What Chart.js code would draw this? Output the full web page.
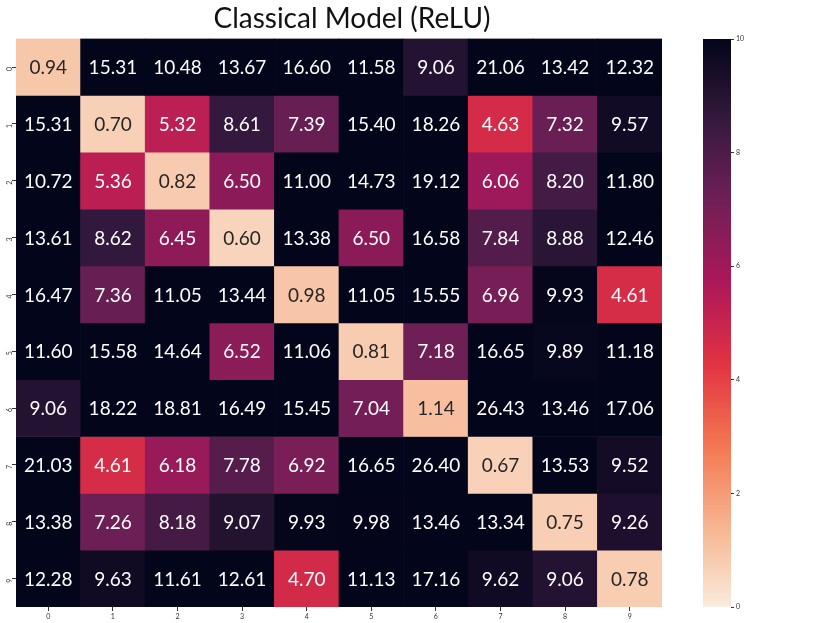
<!DOCTYPE html>
<html>
<head>
<meta charset="utf-8">
<script src="https://cdn.jsdelivr.net/npm/chart.js@4/dist/chart.umd.min.js"></script>
<style>
  html, body { margin: 0; padding: 0; background: #fff; }
  #wrap { position: relative; width: 830px; height: 623px; }
  #main { position: absolute; left: 0; top: 0; }
  #bar { position: absolute; left: 703px; top: 0; }
</style>
</head>
<body>
<div id="wrap">
  <canvas id="main" width="704" height="623"></canvas>
  <canvas id="bar" width="127" height="623"></canvas>
</div>
<script>
// tick labels (same for both axes)
const labels = ['0', '1', '2', '3', '4', '5', '6', '7', '8', '9'];

// matrix values, one array per row
const row0 = [0.94, 15.31, 10.48, 13.67, 16.60, 11.58, 9.06, 21.06, 13.42, 12.32];
const row1 = [15.31, 0.70, 5.32, 8.61, 7.39, 15.40, 18.26, 4.63, 7.32, 9.57];
const row2 = [10.72, 5.36, 0.82, 6.50, 11.00, 14.73, 19.12, 6.06, 8.20, 11.80];
const row3 = [13.61, 8.62, 6.45, 0.60, 13.38, 6.50, 16.58, 7.84, 8.88, 12.46];
const row4 = [16.47, 7.36, 11.05, 13.44, 0.98, 11.05, 15.55, 6.96, 9.93, 4.61];
const row5 = [11.60, 15.58, 14.64, 6.52, 11.06, 0.81, 7.18, 16.65, 9.89, 11.18];
const row6 = [9.06, 18.22, 18.81, 16.49, 15.45, 7.04, 1.14, 26.43, 13.46, 17.06];
const row7 = [21.03, 4.61, 6.18, 7.78, 6.92, 16.65, 26.40, 0.67, 13.53, 9.52];
const row8 = [13.38, 7.26, 8.18, 9.07, 9.93, 9.98, 13.46, 13.34, 0.75, 9.26];
const row9 = [12.28, 9.63, 11.61, 12.61, 4.70, 11.13, 17.16, 9.62, 9.06, 0.78];
const rows = [row0, row1, row2, row3, row4, row5, row6, row7, row8, row9];

// colour range of the colorbar
const vmin = 0;
const vmax = 10;

// "rocket" colormap key colours (dark -> light), used reversed
const rocketPos = [0, 1 / 7, 2 / 7, 3 / 7, 4 / 7, 5 / 7, 6 / 7, 1];
const rocketHex = ['#03051a', '#35193e', '#701f57', '#ad1759', '#e13342', '#f37651', '#f6b48f', '#faebdd'];

function hexToRgb(h) {
  return [parseInt(h.slice(1, 3), 16), parseInt(h.slice(3, 5), 16), parseInt(h.slice(5, 7), 16)];
}

// value -> rgb array (rocket_r)
function cmap(v) {
  let t = (v - vmin) / (vmax - vmin);
  t = Math.max(0, Math.min(1, t));
  const p = 1 - t;
  for (let i = 0; i < rocketPos.length - 1; i++) {
    if (p <= rocketPos[i + 1]) {
      const f = (p - rocketPos[i]) / (rocketPos[i + 1] - rocketPos[i]);
      const a = hexToRgb(rocketHex[i]), b = hexToRgb(rocketHex[i + 1]);
      return a.map((c, k) => Math.round(c + (b[k] - c) * f));
    }
  }
  return hexToRgb(rocketHex[rocketHex.length - 1]);
}

function rgbStr(c) {
  return 'rgb(' + c[0] + ',' + c[1] + ',' + c[2] + ')';
}

// same rule seaborn uses to pick annotation colour
function textColor(c) {
  const lin = c.map(x => {
    x = x / 255;
    return x <= 0.03928 ? x / 12.92 : Math.pow((x + 0.055) / 1.055, 2.4);
  });
  const lum = 0.2126 * lin[0] + 0.7152 * lin[1] + 0.0722 * lin[2];
  return lum > 0.408 ? '#262626' : '#ffffff';
}

// one floating-bar dataset per row, spanning [r, r+1] on the reversed y axis
const datasets = rows.map((row, r) => ({
  label: 'row ' + labels[r],
  data: row.map(() => [r, r + 1]),
  values: row,
  backgroundColor: row.map(v => rgbStr(cmap(v))),
  borderWidth: 0,
  barPercentage: 1,
  categoryPercentage: 1,
  grouped: false
}));

// writes the value into the middle of every cell
const annotate = {
  id: 'annotate',
  afterDatasetsDraw(chart) {
    const ctx = chart.ctx;
    ctx.save();
    ctx.font = '19px Lato';
    ctx.textAlign = 'center';
    ctx.textBaseline = 'middle';
    chart.data.datasets.forEach((ds, i) => {
      chart.getDatasetMeta(i).data.forEach((el, j) => {
        const v = ds.values[j];
        const p = el.getCenterPoint();
        ctx.fillStyle = textColor(cmap(v));
        ctx.fillText(v.toFixed(2), p.x, p.y + 1);
      });
    });
    ctx.restore();
  }
};

const tickFont = { family: 'Lato', size: 7 };

new Chart(document.getElementById('main'), {
  type: 'bar',
  data: { labels: labels, datasets: datasets },
  options: {
    responsive: false,
    animation: false,
    layout: { padding: { left: 0, right: 0, top: 0, bottom: 0 } },
    plugins: {
      legend: { display: false },
      tooltip: { enabled: false },
      title: {
        display: true,
        text: 'Classical Model (ReLU)',
        color: '#111',
        font: { family: 'Lato', size: 28, weight: 'normal', lineHeight: 1.2 },
        padding: { top: 2, bottom: 3 }
      }
    },
    scales: {
      x: {
        type: 'category',
        offset: true,
        grid: { display: true, offset: false, drawOnChartArea: false, drawTicks: true, tickLength: 4, color: '#333' },
        border: { display: false },
        ticks: { font: tickFont, color: '#333', padding: 2, maxRotation: 0 },
        afterFit(s) { s.height = 16; }
      },
      y: {
        type: 'linear',
        min: 0,
        max: 10,
        reverse: true,
        grid: { display: true, drawOnChartArea: false, drawTicks: true, tickLength: 4, color: '#333' },
        border: { display: false },
        ticks: {
          font: tickFont,
          color: '#333',
          padding: 2,
          minRotation: 90,
          maxRotation: 90,
          callback: (v, i) => labels[i]
        },
        afterBuildTicks(s) { s.ticks = labels.map((l, i) => ({ value: i + 0.5 })); },
        afterFit(s) { s.width = 16; }
      },
      // empty spacer on the right, the colorbar sits there
      spacer: {
        type: 'linear',
        position: 'right',
        display: true,
        grid: { display: false },
        border: { display: false },
        ticks: { display: false },
        afterFit(s) { s.width = 42; }
      }
    }
  },
  plugins: [annotate]
});

// colorbar: one floating bar from vmin to vmax filled with the colormap
const barTicks = [0, 2, 4, 6, 8, 10];

new Chart(document.getElementById('bar'), {
  type: 'bar',
  data: {
    labels: [''],
    datasets: [{
      data: [[vmin, vmax]],
      barPercentage: 1,
      categoryPercentage: 1,
      borderWidth: 0,
      backgroundColor(c) {
        const chart = c.chart;
        if (!chart.chartArea) return '#000';
        const y = chart.scales.y;
        const g = chart.ctx.createLinearGradient(0, y.getPixelForValue(vmin), 0, y.getPixelForValue(vmax));
        for (let k = 0; k <= 50; k++) {
          const v = vmin + (vmax - vmin) * k / 50;
          g.addColorStop(k / 50, rgbStr(cmap(v)));
        }
        return g;
      }
    }]
  },
  options: {
    responsive: false,
    animation: false,
    layout: { padding: { left: 0, right: 0, top: 39, bottom: 16 } },
    plugins: { legend: { display: false }, tooltip: { enabled: false } },
    scales: {
      x: { display: false, offset: true },
      y: {
        position: 'right',
        min: vmin,
        max: vmax,
        grid: { display: true, drawOnChartArea: false, drawTicks: true, tickLength: 3, color: '#333' },
        border: { display: false },
        ticks: { font: tickFont, color: '#333', padding: 2, stepSize: 2 },
        afterBuildTicks(s) { s.ticks = barTicks.map(v => ({ value: v })); },
        afterFit(s) { s.width = 99; }
      }
    }
  }
});
</script>
</body>
</html>
